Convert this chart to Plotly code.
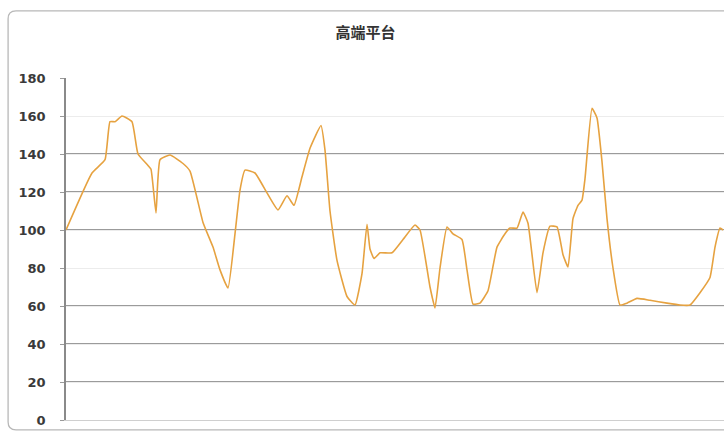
import plotly.graph_objects as go

title_text = "高端平台"

# Position along the time axis (arbitrary units) and the values
t = [0, 26, 39, 44, 49, 56, 66, 72, 82, 85, 90, 94, 104, 117, 124, 137, 147, 154, 162,
     169, 174, 179, 189, 201, 212, 221, 228, 236, 244, 255, 259, 264, 271, 281, 289,
     296, 301, 304, 308, 314, 326, 337, 349, 354, 364, 369, 374, 381, 387, 396, 401,
     407, 414, 422, 431, 439, 444, 451, 457, 462, 471, 477, 484, 491, 497, 502, 507,
     512, 516, 519, 526, 531, 536, 541, 547, 554, 561, 571, 584, 601, 614, 624, 634,
     644, 649, 654, 657]
values = [100, 130, 137, 157, 157, 160, 157, 140, 134, 132, 109, 137, 139.5, 135, 131,
          104, 91, 79, 69.5, 98, 121, 131.5, 130, 119.5, 110.5, 118, 113, 128, 143, 155,
          142, 110, 84, 65, 60.5, 77, 103, 90, 85, 88, 88, 95, 102.6, 100, 70, 59, 80,
          101.6, 98, 95, 79, 61, 61.5, 68, 91, 98, 101, 101, 109.5, 103.6, 67, 88, 102,
          101.6, 87, 80.5, 106, 113, 115.7, 127, 164, 159, 136, 106, 80, 60.5, 61.5, 64,
          63, 61.5, 60.5, 60.5, 67, 75, 91, 101, 100]

y_ticks = [0, 20, 40, 60, 80, 100, 120, 140, 160, 180]
dark_grid = [20, 40, 60, 100, 120, 140]

fig = go.Figure()
fig.add_trace(go.Scatter(
    x=t, y=values, mode="lines",
    line=dict(color="#E6A240", width=1.6, shape="spline", smoothing=0.4),
    hoverinfo="skip", showlegend=False,
))

shapes = []
for g in dark_grid:
    shapes.append(dict(type="line", xref="paper", yref="y", x0=0, x1=1, y0=g, y1=g,
                       line=dict(color="#7a7a7a", width=1.6), layer="below"))
# rounded chart frame (left, top and bottom edges visible)
shapes.append(dict(
    type="path", xref="paper", yref="paper", layer="below",
    path="M -0.088,1.173 L -0.088,-0.006 Q -0.088,-0.029 -0.076,-0.029 L 1.1,-0.029 "
         "M -0.088,1.173 Q -0.088,1.196 -0.076,1.196 L 1.1,1.196",
    line=dict(color="#b8b8b8", width=1.3),
))

fig.update_layout(
    width=724, height=433,
    margin=dict(l=66, r=0, t=78, b=13),
    paper_bgcolor="white", plot_bgcolor="white",
    title=dict(text=title_text, x=0.505, xanchor="center", y=0.925, yanchor="middle",
               font=dict(family="Noto Sans CJK SC", size=15, color="#333333", weight="bold")),
    xaxis=dict(range=[0, 658], showgrid=False, zeroline=False, showticklabels=False,
               showline=True, linecolor="#cfcfcf", linewidth=1, ticks=""),
    yaxis=dict(range=[0, 180], tickvals=y_ticks, showgrid=True, gridcolor="#ececec",
               gridwidth=1, zeroline=False, showline=True, linecolor="#8a8a8a",
               linewidth=1.5, ticks="outside", ticklen=4, tickcolor="#9a9a9a",
               ticklabelstandoff=12, automargin=False,
               tickfont=dict(family="DejaVu Sans", size=13, color="#3a3a3a",
                             weight="bold")),
    shapes=shapes,
)

fig.write_html(
    "out.html",
    config={"displayModeBar": False},
    post_script="document.body.style.margin='0';document.body.style.overflow='hidden';",
)
